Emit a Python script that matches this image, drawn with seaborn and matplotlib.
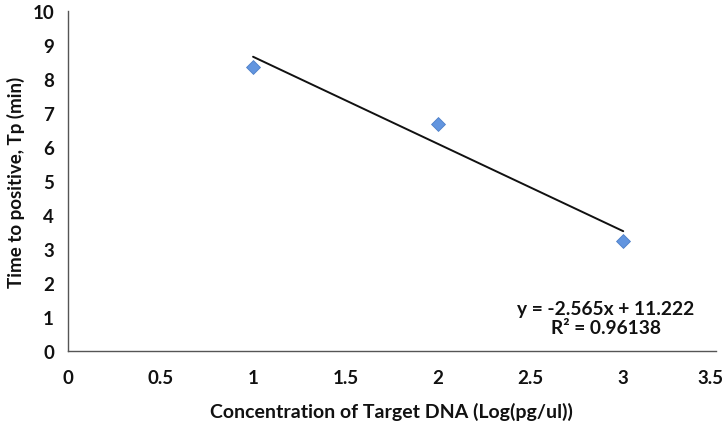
import matplotlib
matplotlib.use("Agg")
import matplotlib.pyplot as plt
import matplotlib.transforms as mtransforms
import seaborn as sns
import numpy as np
import pandas as pd

# Data
concentration = [1.0, 2.0, 3.0]
time_to_positive = [8.36, 6.686, 3.23]
slope = -2.565
intercept = 11.222
r_squared = 0.96138
x_ticks = [0, 0.5, 1, 1.5, 2, 2.5, 3, 3.5]
y_ticks = [0, 1, 2, 3, 4, 5, 6, 7, 8, 9, 10]

sns.set_style("white")
plt.rcParams['font.family'] = ['Lato', 'DejaVu Sans']
plt.rcParams['font.weight'] = 'bold'

df = pd.DataFrame({"x": concentration, "y": time_to_positive})
fit_x = [min(concentration), max(concentration)]
fit_df = pd.DataFrame({"x": fit_x, "y": [slope * v + intercept for v in fit_x]})

fig = plt.figure(figsize=(7.23, 4.31), dpi=100)
ax = fig.add_axes([0.094, 0.183, 0.896, 0.789])

sns.lineplot(data=fit_df, x="x", y="y", ax=ax, color="#111111", linewidth=1.4)
sns.scatterplot(data=df, x="x", y="y", ax=ax, marker="D", s=50,
                color="#6295DF", edgecolor="#4E80C8", linewidth=0.6, zorder=5)

ax.set_xlim(0, 3.5)
ax.set_ylim(0, 10)
ax.set_xticks(x_ticks)
ax.set_xticklabels([f"{t:g}" for t in x_ticks])
ax.set_yticks(y_ticks)
ax.set_yticklabels([str(t) for t in y_ticks])

for s in ["top", "right"]:
    ax.spines[s].set_visible(False)
for s in ["left", "bottom"]:
    ax.spines[s].set_color("#555555")
    ax.spines[s].set_linewidth(1.0)

ax.tick_params(axis="both", direction="out", length=5, width=1.0, color="#555555",
               labelsize=13.5, labelcolor="#111111")
ax.tick_params(axis="x", pad=8)
ax.tick_params(axis="y", pad=5)
for lab in ax.get_xticklabels() + ax.get_yticklabels():
    lab.set_fontweight("bold")
# keep the last x tick label inside the canvas
last = ax.get_xticklabels()[-1]
last.set_transform(last.get_transform() + mtransforms.ScaledTranslation(-5/100, 0, fig.dpi_scale_trans))

ax.set_xlabel("Concentration of Target DNA (Log(pg/ul))", fontsize=14,
              fontweight="bold", color="#111111", labelpad=11)
ax.set_ylabel("Time to positive, Tp (min)", fontsize=13.5, fontweight="bold",
              color="#111111", labelpad=5)

ax.text(2.906, 0.97, f"y = {slope}x + {intercept}\nR² = {r_squared}",
        ha="center", va="center", fontsize=13.8, fontweight="bold",
        color="#111111", linespacing=1.15)

fig.savefig("out.png", dpi=100)
